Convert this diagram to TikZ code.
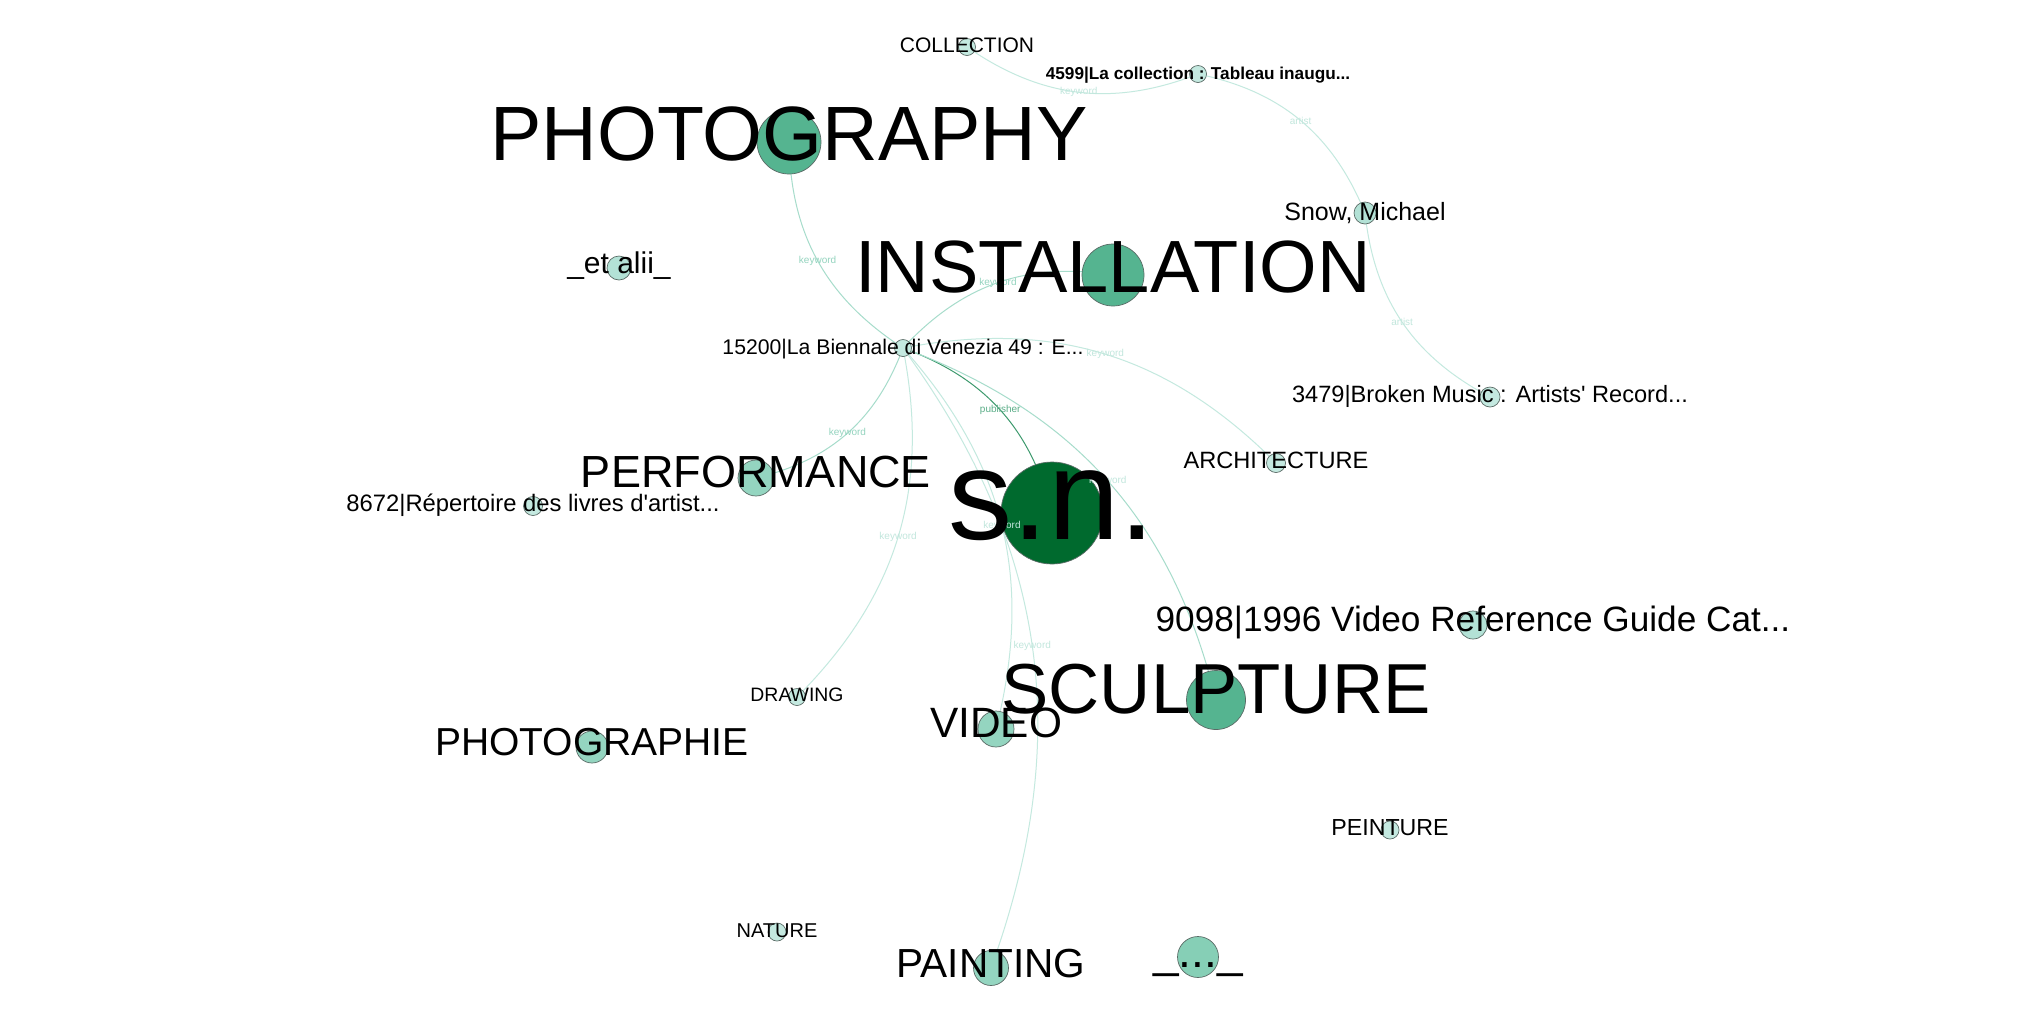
\documentclass[tikz,border=0pt]{standalone}
\usepackage{fontspec}
\setmainfont{Liberation Sans}
\usepackage{xcolor}
\usepackage{tikz}
\usetikzlibrary{backgrounds}
\definecolor{NodeMint}{HTML}{C4E9E0}
\definecolor{NodeAqua}{HTML}{B3E2D6}
\definecolor{NodeSea}{HTML}{94D5C0}
\definecolor{NodeSeaDeep}{HTML}{86CFB6}
\definecolor{NodeJade}{HTML}{55B490}
\definecolor{NodeForest}{HTML}{006A2E}
\definecolor{DotRim}{HTML}{5A6B66}
\definecolor{EdgeMint}{HTML}{C4E9DF}
\definecolor{EdgeSea}{HTML}{A6DCCB}
\definecolor{EdgePub}{HTML}{3E9A6E}
\definecolor{TagMint}{HTML}{C2E7DD}
\definecolor{TagSea}{HTML}{94D4BF}
\definecolor{TagPub}{HTML}{5BAE88}
\newcommand{\tagsize}[1]{\fontsize{#1}{#1}\selectfont}
\tikzset{
  vertex/.style={circle,draw=DotRim,line width=0.35pt,inner sep=0pt,minimum size=#1},
  link/.style={draw=EdgeSea,line width=0.5pt,bend left=28},
  faintlink/.style={link,draw=EdgeMint},
  publink/.style={link,draw=EdgePub},
  kwtag/.style={inner sep=0pt,text=TagSea,font=\tagsize{5pt}},
  tag/.style={anchor=base,inner sep=0pt,text=black}
}

\begin{document}
\begin{tikzpicture}[x=0.5pt,y=0.5pt]
\useasboundingbox (0,0) rectangle (2024,-1024);
% circles (1px = 0.5pt, so minimum size = radius in px)
\node[vertex=8.5pt,fill=NodeMint] (coll) at (967,-47) {};
\node[vertex=8.5pt,fill=NodeMint] (lacoll) at (1198,-74) {};
\node[vertex=11pt,fill=NodeAqua] (snow) at (1365,-213) {};
\node[vertex=10pt,fill=NodeMint] (broken) at (1490,-397) {};
\node[vertex=32pt,fill=NodeJade] (photo) at (789,-142) {};
\node[vertex=31pt,fill=NodeJade] (instal) at (1113,-275) {};
\node[vertex=8.5pt,fill=NodeMint] (biennale) at (903,-348) {};
\node[vertex=9.5pt,fill=NodeMint] (archi) at (1276,-463) {};
\node[vertex=18pt,fill=NodeSea] (perf) at (756,-478) {};
\node[vertex=9.5pt,fill=NodeMint] (repert) at (533,-506) {};
\node[vertex=12pt,fill=NodeAqua] (etalii) at (619,-268) {};
\node[vertex=51pt,fill=NodeForest] (sn) at (1052,-513) {};
\node[vertex=8.5pt,fill=NodeMint] (drawing) at (797,-697) {};
\node[vertex=16pt,fill=NodeSea] (photofr) at (592,-747) {};
\node[vertex=18pt,fill=NodeSea] (video) at (996,-729) {};
\node[vertex=29.5pt,fill=NodeJade] (sculpt) at (1216,-700) {};
\node[vertex=14pt,fill=NodeAqua] (guide) at (1473,-625) {};
\node[vertex=9pt,fill=NodeMint] (peint) at (1390,-830) {};
\node[vertex=9pt,fill=NodeMint] (nature) at (777,-932) {};
\node[vertex=17.5pt,fill=NodeSea] (painting) at (991,-968) {};
\node[vertex=20.5pt,fill=NodeSeaDeep] (dots) at (1198,-957) {};

% edges, centre to centre, under the circles
\begin{scope}[on background layer]
\fill[white] (0,0) rectangle (2024,-1024);
\draw[faintlink] (lacoll.center) to coordinate[midway] (k-coll) (coll.center);
\draw[faintlink] (lacoll.center) to coordinate[midway] (k-snow) (snow.center);
\draw[faintlink] (broken.center) to coordinate[midway] (k-broken) (snow.center);
\draw[link] (biennale.center) to coordinate[midway] (k-photo) (photo.center);
\draw[link] (biennale.center) to coordinate[midway] (k-instal) (instal.center);
\draw[faintlink] (biennale.center) to coordinate[midway] (k-archi) (archi.center);
\draw[publink] (biennale.center) to coordinate[midway] (k-sn) (sn.center);
\draw[link] (biennale.center) to coordinate[midway] (k-perf) (perf.center);
\draw[faintlink] (biennale.center) to coordinate[midway] (k-drawing) (drawing.center);
\draw[faintlink] (biennale.center) to coordinate[midway] (k-video) (video.center);
\draw[faintlink] (biennale.center) to coordinate[midway] (k-painting) (painting.center);
\draw[link] (biennale.center) to coordinate[midway] (k-sculpt) (sculpt.center);
\end{scope}

% edge labels
\node[kwtag,text=TagMint] at (k-coll) {keyword};
\node[kwtag,text=TagMint] at (k-snow) {artist};
\node[kwtag,text=TagMint] at (k-broken) {artist};
\node[kwtag] at (k-photo) {keyword};
\node[kwtag] at (k-instal) {keyword};
\node[kwtag,text=TagMint] at (k-archi) {keyword};
\node[kwtag,text=TagPub] at (k-sn) {publisher};
\node[kwtag] at (k-perf) {keyword};
\node[kwtag,text=TagMint] at (k-drawing) {keyword};
\node[kwtag,text=TagMint] at (k-video) {keyword};
\node[kwtag,text=TagMint] at (k-painting) {keyword};
\node[kwtag,text=TagMint] at (k-sculpt) {keyword};

% node labels
\node[tag,font=\tagsize{10.5pt}] (coll-t) at ([yshift=-2.5pt]coll) {COLLECTION};
\node[tag,font=\tagsize{8.6pt}\bfseries] (lacoll-t) at ([yshift=-2.5pt]lacoll) {4599|La collection : Tableau inaugu...};
\node[tag,font=\tagsize{12.5pt}] (snow-t) at ([yshift=-3.5pt]snow) {Snow, Michael};
\node[tag,font=\tagsize{11.8pt}] (broken-t) at ([yshift=-2.5pt]broken) {3479|Broken Music : Artists\textquotesingle{} Record...};
\node[tag,font=\tagsize{38.5pt}] (photo-t) at ([yshift=-9pt]photo) {PHOTOGRAPHY};
\node[tag,font=\tagsize{37pt}] (instal-t) at ([yshift=-8.5pt]instal) {INSTALLATION};
\node[tag,font=\tagsize{10.6pt}] (biennale-t) at ([yshift=-3pt]biennale) {15200|La Biennale di Venezia 49 : E...};
\node[tag,font=\tagsize{11.8pt}] (archi-t) at ([yshift=-2.5pt]archi) {ARCHITECTURE};
\node[tag,font=\tagsize{22.5pt}] (perf-t) at ([yshift=-4.5pt]perf) {PERFORMANCE};
\node[tag,font=\tagsize{11.9pt}] (repert-t) at ([yshift=-2.5pt]repert) {8672|Répertoire des livres d\textquotesingle{}artist...};
\node[tag,font=\tagsize{15pt}] (etalii-t) at ([yshift=-2.5pt]etalii) {\_et alii\_};
\node[tag,font=\tagsize{64pt}] (sn-t) at ([yshift=-13pt]sn) {s.n.};
\node[tag,font=\tagsize{9.7pt}] (drawing-t) at ([yshift=-2pt]drawing) {DRAWING};
\node[tag,font=\tagsize{19.5pt}] (photofr-t) at ([yshift=-4pt]photofr) {PHOTOGRAPHIE};
\node[tag,font=\tagsize{21.2pt}] (video-t) at ([yshift=-4pt]video) {VIDEO};
\node[tag,font=\tagsize{35.4pt}] (sculpt-t) at ([yshift=-6.5pt]sculpt) {SCULPTURE};
\node[tag,font=\tagsize{17.6pt}] (guide-t) at ([yshift=-3pt]guide) {9098|1996 Video Reference Guide Cat...};
\node[tag,font=\tagsize{11.6pt}] (peint-t) at ([yshift=-2.5pt]peint) {PEINTURE};
\node[tag,font=\tagsize{10pt}] (nature-t) at ([yshift=-2.5pt]nature) {NATURE};
\node[tag,font=\tagsize{20.3pt}] (painting-t) at ([yshift=-4.5pt]painting) {PAINTING};
\node[tag,font=\tagsize{23pt}] (dots-t) at ([yshift=-5pt]dots) {\_...\_};
\end{tikzpicture}
\end{document}
